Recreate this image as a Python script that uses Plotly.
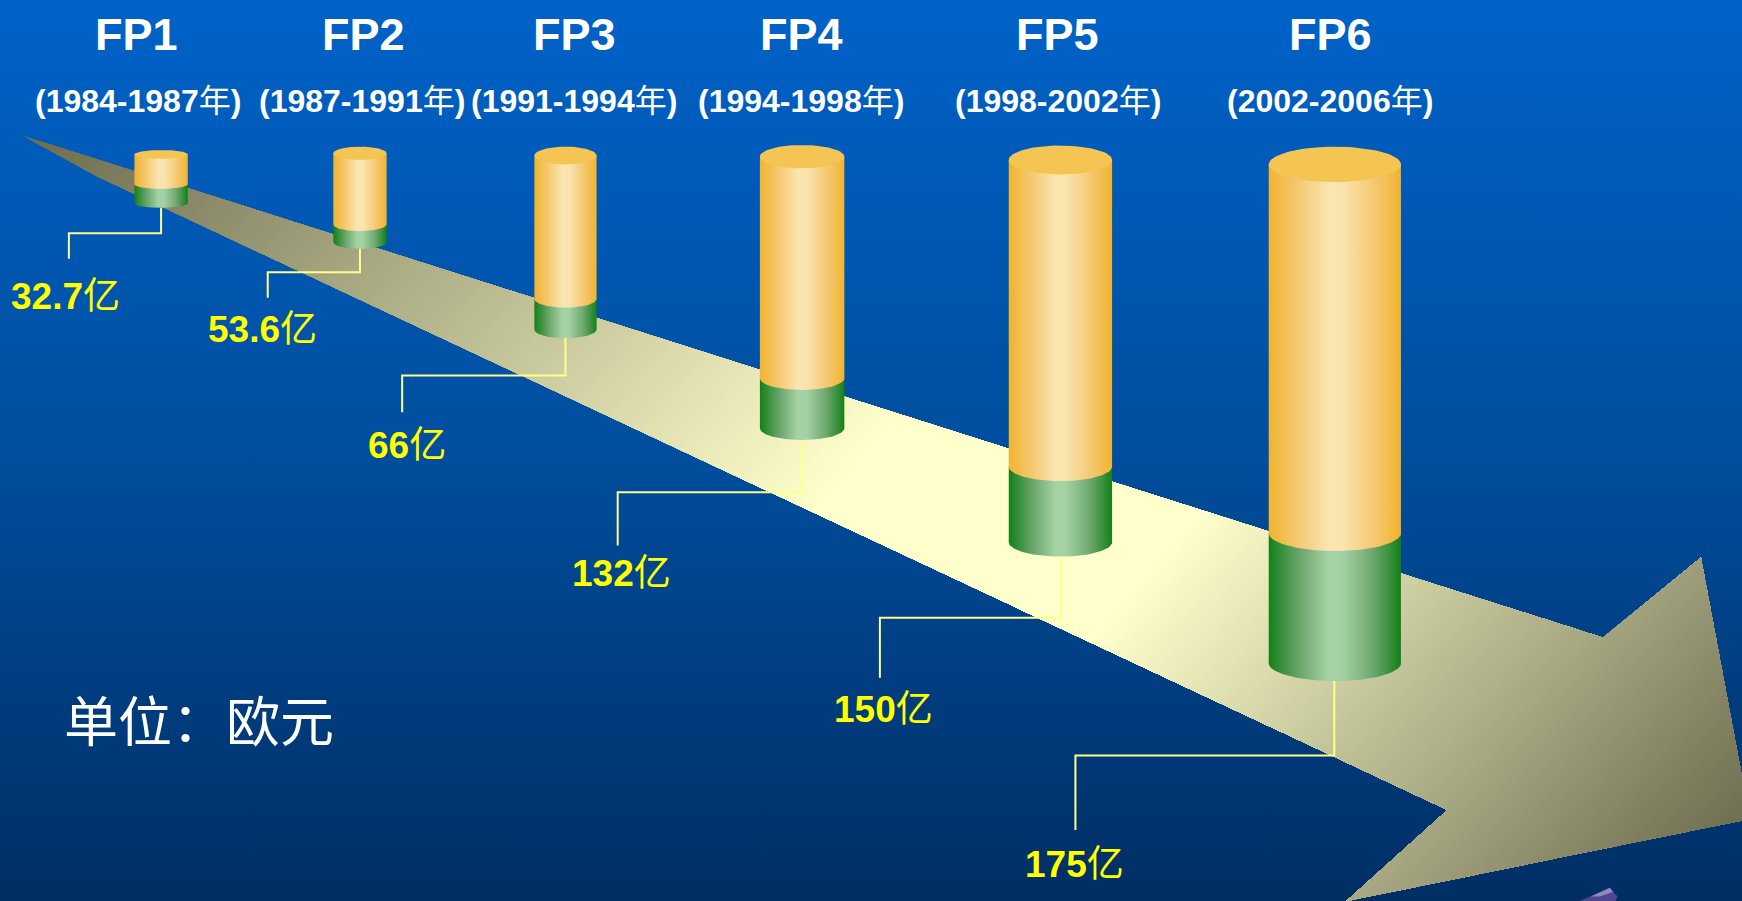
import numpy as np
import plotly.graph_objects as go

W, H = 1568, 811  # axis units

programmes = ["FP1", "FP2", "FP3", "FP4", "FP5", "FP6"]
period_years = ["1984-1987", "1987-1991", "1991-1994", "1994-1998", "1998-2002", "2002-2006"]
funding = ["32.7", "53.6", "66", "132", "150", "175"]

prog_x = [123, 327, 517, 721, 952, 1198]
period_x = [124, 326, 517, 721, 952, 1197]
label_x = [59, 236, 366, 559, 795, 967]
label_y = [267, 297, 401, 516, 639, 778]

cyl_left = [121, 300, 481, 684, 908, 1142]
cyl_right = [169, 348, 537, 760, 1001, 1261]
cyl_top = [139, 138, 140, 141, 144, 148]
cyl_join = [166, 202, 269, 340.5, 420, 480]
cyl_bottom = [183, 218, 296.5, 385.5, 488, 597]
cyl_ry = [4, 6, 8, 10.5, 13, 16]

lead_x = [145, 324, 509, 722, 955, 1201]
lead_y0 = [187, 224, 304, 396, 501, 613]
lead_mid = [210, 245, 338, 443, 556, 680]
lead_x1 = [62, 241, 362, 556, 792, 968]
lead_y1 = [233, 268, 371, 491, 610, 747]

arrow_x = [20, 88, 1303, 1212, 1575, 1531, 1443]
arrow_y = [122, 159, 729, 811, 737, 502, 574]

grad_pos = [94, 850, 1120, 1680]
grad_level = [0, 1, 1, 0]

fig = go.Figure()


def poly(x, y, **kw):
    fig.add_trace(go.Scatter(x=x, y=y, mode="lines", fill="toself", line=dict(width=0),
                             hoverinfo="skip", showlegend=False, **kw))


# background
poly([0, W, W, 0, 0], [0, 0, H, H, 0],
     fillgradient=dict(type="vertical", start=0, stop=H,
                       colorscale=[[0, "#0062c8"], [0.5, "#004e9e"], [1, "#002e64"]]))


# arrow with a diagonal gradient
def clip(pts, d, t):
    out = []
    for i in range(len(pts)):
        a, b = pts[i], pts[(i + 1) % len(pts)]
        fa, fb = a @ d - t, b @ d - t
        if fa >= 0:
            out.append(a)
        if fa * fb < 0:
            out.append(a + (b - a) * fa / (fa - fb))
    return out


pts = [np.array(p, float) for p in zip(arrow_x, arrow_y)]
d = np.array([0.76, 0.65])
proj = [p @ d for p in pts]
p0, p1 = min(proj), max(proj)
dark, light = np.array([0x6c, 0x6c, 0x50]), np.array([0xff, 0xff, 0xcc])
N = 260
for i in range(N):
    t = p0 + (p1 - p0) * i / N
    c = dark + (light - dark) * np.interp(t, grad_pos, grad_level)
    part = clip(pts, d, t)
    if part:
        xs = [p[0] for p in part] + [part[0][0]]
        ys = [p[1] for p in part] + [part[0][1]]
        poly(xs, ys, fillcolor="rgb(%d,%d,%d)" % tuple(c))

# small purple fragment at the bottom edge
poly([1422, 1449, 1456, 1454, 1422], [811, 799, 807, 811, 811], fillcolor="#4f4590")
poly([1432, 1449, 1452, 1440, 1432], [807, 799, 803, 807, 807], fillcolor="#8f88bb")

ORANGE = [[0, "#f0b430"], [0.22, "#f5c870"], [0.45, "#fae5b0"], [0.55, "#fae5b0"], [0.8, "#f5c870"], [1, "#f0b430"]]
GREEN = [[0, "#14801a"], [0.25, "#6fa970"], [0.45, "#a5d2a5"], [0.55, "#a5d2a5"], [0.78, "#6fa970"], [1, "#14801a"]]

for L, R, top, join, bot, ry in zip(cyl_left, cyl_right, cyl_top, cyl_join, cyl_bottom, cyl_ry):
    cx, rx = (L + R) / 2, (R - L) / 2
    th = np.linspace(np.pi, 0, 60)
    ax, ay = cx + rx * np.cos(th), np.sin(th)
    poly(list(ax) + list(ax[::-1]) + [ax[0]],
         list(bot + ry * ay) + list(np.full(60, join)) + [bot],
         fillgradient=dict(type="horizontal", start=L, stop=R, colorscale=GREEN))
    poly(list(ax) + list(ax[::-1]) + [ax[0]],
         list(join + ry * ay) + list(np.full(60, top)) + [join],
         fillgradient=dict(type="horizontal", start=L, stop=R, colorscale=ORANGE))
    t2 = np.linspace(0, 2 * np.pi, 80)
    poly(list(cx + rx * np.cos(t2)), list(top + ry * np.sin(t2)), fillcolor="#f5c553")

for x0, y0, ym, x1, y1 in zip(lead_x, lead_y0, lead_mid, lead_x1, lead_y1):
    fig.add_trace(go.Scatter(x=[x0, x0, x1, x1], y=[y0, ym, ym, y1], mode="lines",
                             line=dict(color="#ffff8c", width=2), hoverinfo="skip", showlegend=False))

FONT = "Liberation Sans, Noto Sans CJK SC"
ann = []
for name, x in zip(programmes, prog_x):
    ann.append(dict(x=x, y=31, text="<b>%s</b>" % name, font=dict(size=45, color="white", family=FONT)))
for name, x in zip(period_years, period_x):
    ann.append(dict(x=x, y=91, text="<b>(%s</b>年<b>)</b>" % name, font=dict(size=32, color="white", family=FONT)))
for v, x, y in zip(funding, label_x, label_y):
    ann.append(dict(x=x, y=y, text="<b>%s</b>亿" % v, font=dict(size=37, color="#ffff00", family=FONT)))
ann.append(dict(x=179, y=647, text="单位：欧元", font=dict(size=54, color="white", family="Noto Sans CJK SC")))
for a in ann:
    a.update(showarrow=False, xanchor="center", yanchor="middle", xref="x", yref="y")

fig.update_layout(
    width=1742, height=901, margin=dict(l=0, r=0, t=0, b=0), paper_bgcolor="#004e9e", plot_bgcolor="#004e9e",
    xaxis=dict(range=[0, W], visible=False, fixedrange=True),
    yaxis=dict(range=[H, 0], visible=False, fixedrange=True),
    annotations=ann,
)
fig.write_html("out.html", config=dict(displayModeBar=False),
               post_script="document.body.style.margin='0';document.body.style.overflow='hidden';")
